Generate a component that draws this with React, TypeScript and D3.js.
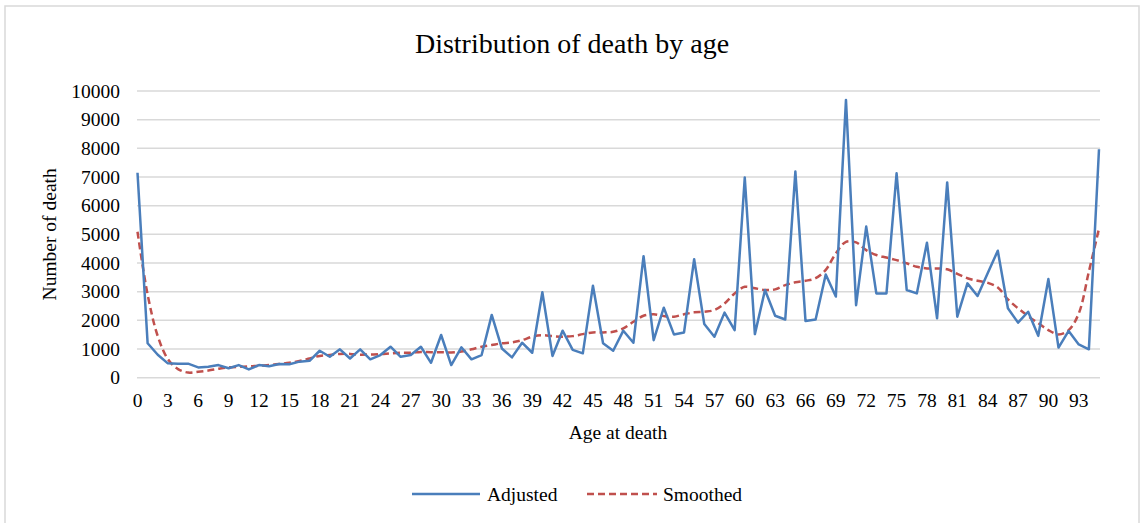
import React from "react";
import * as d3 from "d3";

const ages: number[] = Array.from({ length: 96 }, (_, i) => i);
const adjusted: number[] = [
  7150, 1200, 800, 500, 490, 490, 360, 380, 440, 330,
  440, 290, 440, 400, 480, 470, 560, 590, 940, 730,
  990, 670, 990, 640, 790, 1080, 730, 790, 1080, 520,
  1490, 440, 1060, 640, 790, 2190, 1020, 710, 1220, 870,
  2980, 760, 1640, 970, 850, 3210, 1200, 940, 1640, 1220,
  4240, 1310, 2440, 1510, 1580, 4130, 1870, 1430, 2270, 1660,
  6980, 1520, 3060, 2160, 2030, 7190, 1980, 2030, 3600, 2830,
  9690, 2530, 5270, 2940, 2940, 7130, 3060, 2940, 4710, 2070,
  6810, 2130, 3290, 2850, 3640, 4430, 2420, 1920, 2300, 1460,
  3440, 1050, 1630, 1160, 990, 7970,
];
const smoothed: number[] = [
  5090, 2900, 1450, 650, 300, 180, 210, 250, 310, 360,
  380, 390, 420, 440, 480, 520, 580, 670, 760, 790,
  830, 830, 800, 810, 820, 850, 870, 870, 900, 890,
  890, 880, 910, 990, 1080, 1140, 1200, 1230, 1310, 1430,
  1480, 1450, 1430, 1450, 1520, 1580, 1580, 1600, 1720, 1950,
  2160, 2210, 2150, 2130, 2210, 2280, 2300, 2360, 2590, 2940,
  3170, 3120, 3060, 3080, 3230, 3330, 3380, 3470, 3760, 4340,
  4740, 4720, 4450, 4280, 4190, 4100, 3990, 3870, 3810, 3810,
  3780, 3620, 3470, 3380, 3310, 3150, 2730, 2420, 2150, 1900,
  1660, 1510, 1660, 2240, 3700, 5200,
];
const xTicks: number[] = ages.filter((a) => a % 3 === 0);
const yTicks: number[] = [0, 1000, 2000, 3000, 4000, 5000, 6000, 7000, 8000, 9000, 10000];

const W = 1141;
const H = 523;
const FONT = "'Liberation Serif', 'DejaVu Serif', serif";
const BLUE = "#4a7ebb";
const RED = "#c0504d";
const FS = 19.5;

export default function App() {
  const x = d3.scalePoint<number>().domain(ages).range([137.5, 1099]);
  const y = d3.scaleLinear().domain([0, 10000]).range([377.7, 91]);

  const blueLine = d3
    .line<number>()
    .x((_, i) => x(ages[i]) as number)
    .y((d) => y(d));
  const redLine = d3
    .line<number>()
    .x((_, i) => x(ages[i]) as number)
    .y((d) => y(d))
    .curve(d3.curveCatmullRom.alpha(0.5));

  return (
    <svg
      width={W}
      height={H}
      style={{ position: "absolute", left: 0, top: 0, display: "block", background: "#fff" }}
      fontFamily={FONT}
    >
      <rect x={5} y={6} width={1134} height={540} fill="#fff" stroke="#d9d9d9" strokeWidth={1.5} />
      <text x={572} y={53} textAnchor="middle" fontSize={28} fill="#000">
        Distribution of death by age
      </text>

      {yTicks.map((t) => (
        <g key={t}>
          <line x1={137} x2={1100} y1={y(t)} y2={y(t)} stroke="#d9d9d9" strokeWidth={1.5} />
          <text x={120} y={y(t) + 6.5} textAnchor="end" fontSize={FS} fill="#000">
            {t}
          </text>
        </g>
      ))}

      {xTicks.map((t) => (
        <text key={t} x={x(t) as number} y={407} textAnchor="middle" fontSize={FS} fill="#000">
          {t}
        </text>
      ))}

      <text x={618} y={439} textAnchor="middle" fontSize={FS} fill="#000">
        Age at death
      </text>
      <text
        transform={`translate(56,${(y(0) + y(10000)) / 2}) rotate(-90)`}
        textAnchor="middle"
        fontSize={FS}
        fill="#000"
      >
        Number of death
      </text>

      <path d={redLine(smoothed) || ""} fill="none" stroke={RED} strokeWidth={2.5} strokeDasharray="7,4" />
      <path d={blueLine(adjusted) || ""} fill="none" stroke={BLUE} strokeWidth={2.5} strokeLinejoin="round" />

      <line x1={412} x2={480} y1={494} y2={494} stroke={BLUE} strokeWidth={2.5} />
      <text x={487} y={500.5} fontSize={FS} fill="#000">
        Adjusted
      </text>
      <line x1={587} x2={657} y1={494} y2={494} stroke={RED} strokeWidth={2.5} strokeDasharray="7,4" />
      <text x={663} y={500.5} fontSize={FS} fill="#000">
        Smoothed
      </text>
    </svg>
  );
}
